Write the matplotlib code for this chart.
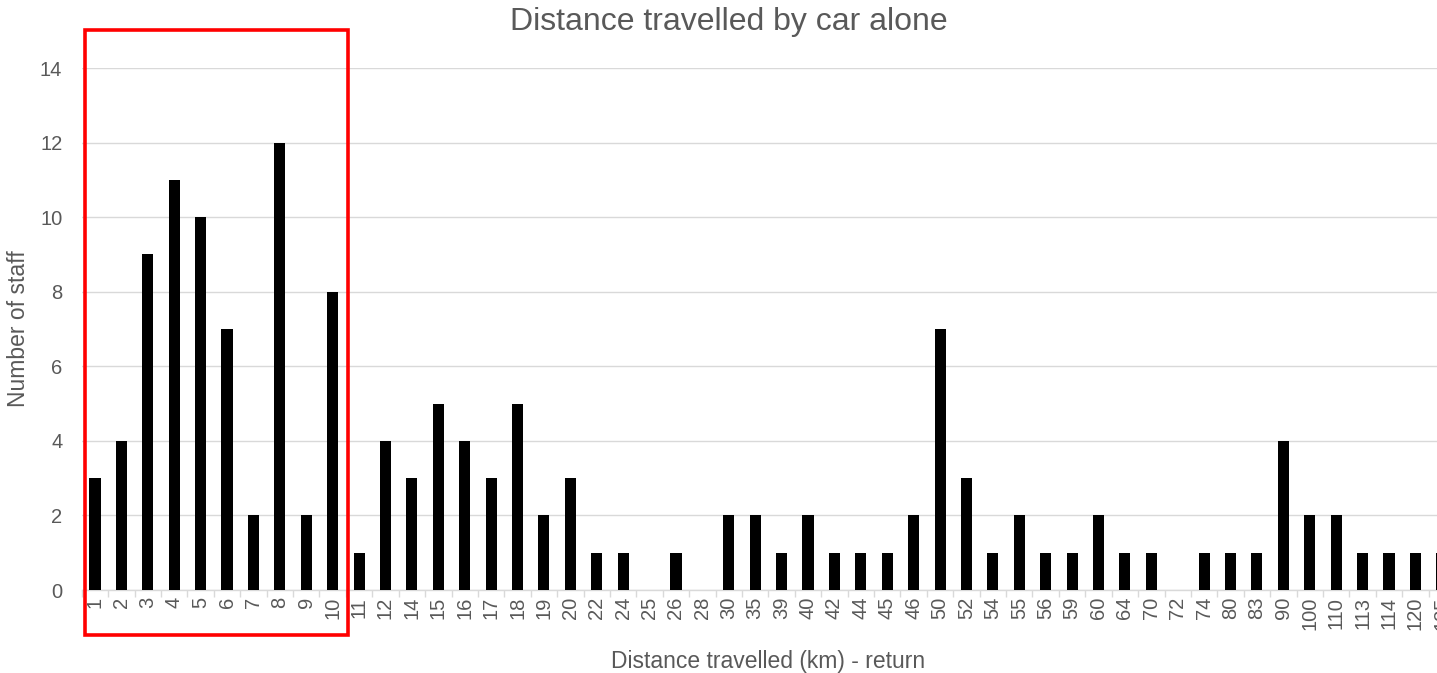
import numpy as np
import matplotlib.pyplot as plt
from matplotlib.patches import Rectangle

plt.rcParams['font.family'] = ['Liberation Sans', 'DejaVu Sans']

distances = ["1", "2", "3", "4", "5", "6", "7", "8", "9", "10", "11", "12",
             "14", "15", "16", "17", "18", "19", "20", "22", "24", "25", "26",
             "28", "30", "35", "39", "40", "42", "44", "45", "46", "50", "52",
             "54", "55", "56", "59", "60", "64", "70", "72", "74", "80", "83",
             "90", "100", "110", "113", "114", "120", "125"]
staff = [3, 4, 9, 11, 10, 7, 2, 12, 2, 8, 1, 4,
         3, 5, 4, 3, 5, 2, 3, 1, 1, 0, 1,
         0, 2, 2, 1, 2, 1, 1, 1, 2, 7, 3,
         1, 2, 1, 1, 2, 1, 1, 0, 1, 1, 1,
         4, 2, 2, 1, 1, 1, 1]
y_ticks = [0, 2, 4, 6, 8, 10, 12, 14]

grey = '#595959'
grid_grey = '#d9d9d9'

W, H = 1437, 673
fig = plt.figure(figsize=(W / 100, H / 100), dpi=100)
# plot area runs past the right edge, like the cropped original
ax = fig.add_axes([81.8 / W, 1 - 590 / H, (1455 - 81.8) / W, (590 - 68) / H])

x = np.arange(len(distances))
ax.bar(x, staff, width=0.42, color='black', zorder=3)

ax.set_xlim(-0.5, len(distances) - 0.5)
ax.set_ylim(0, 14)
ax.set_yticks(y_ticks)
ax.set_xticks(x)
ax.set_xticklabels(distances, rotation=90, fontsize=14.5, color=grey)
ax.set_xticks(np.arange(-0.5, len(distances), 1), minor=True)
ax.tick_params(axis='x', which='major', length=0, pad=5)
ax.tick_params(axis='x', which='minor', length=5, color=grid_grey, width=1)
ax.tick_params(axis='y', length=0, labelsize=14.5, labelcolor=grey, pad=14)

ax.grid(axis='y', color=grid_grey, linewidth=1, zorder=0)
for s in ['top', 'right', 'left']:
    ax.spines[s].set_visible(False)
ax.spines['bottom'].set_color(grid_grey)
ax.spines['bottom'].set_linewidth(1)

ax.set_xlabel("Distance travelled (km) - return", fontsize=16.5, color=grey)
ax.xaxis.set_label_coords(0.4997, -0.115)
ax.set_ylabel("Number of staff", fontsize=16.5, color=grey)
ax.yaxis.set_label_coords(-0.038, 0.5)
fig.text(729 / W, 1 - 22 / H, "Distance travelled by car alone", fontsize=23,
         color=grey, ha='center', va='center')

# red highlight box around the first ten categories
ax.add_patch(Rectangle((-0.38, -1.21), 9.96, 16.23, fill=False, edgecolor='#ff0000',
                       linewidth=2.6, clip_on=False, zorder=5))

fig.savefig("out.png", dpi=100)
